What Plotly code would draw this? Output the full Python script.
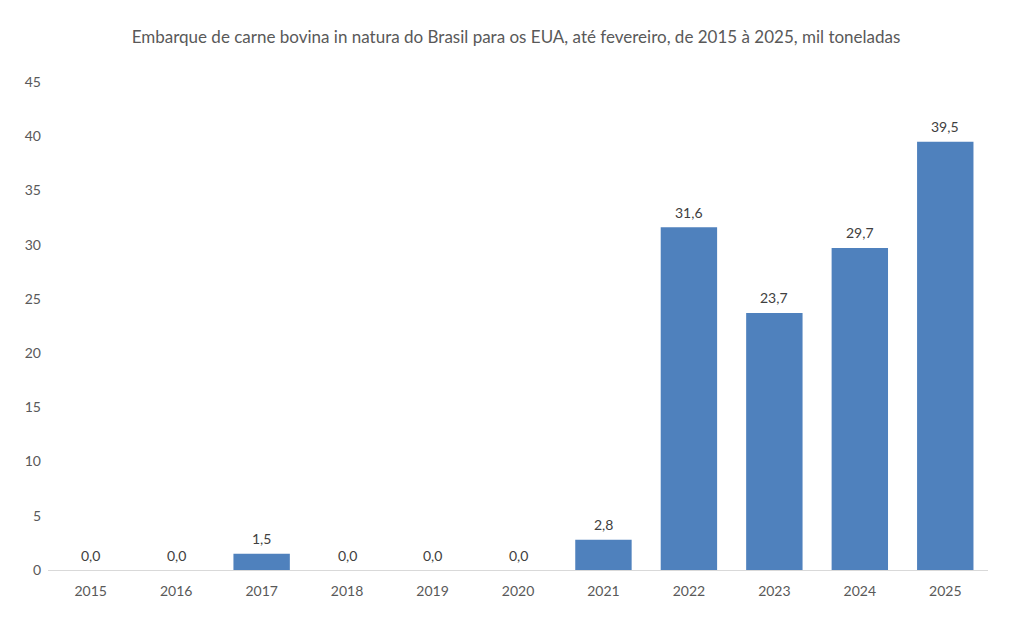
import plotly.graph_objects as go

years = ["2015", "2016", "2017", "2018", "2019", "2020", "2021", "2022", "2023", "2024", "2025"]
values = [0.0, 0.0, 1.5, 0.0, 0.0, 0.0, 2.8, 31.6, 23.7, 29.7, 39.5]
y_ticks = [0, 5, 10, 15, 20, 25, 30, 35, 40, 45]

title = "Embarque de carne bovina in natura do Brasil para os EUA, até fevereiro, de 2015 à 2025, mil toneladas"

font_family = "Lato, 'Open Sans', sans-serif"
gray = "#595959"

fig = go.Figure(
    go.Bar(
        x=years,
        y=values,
        marker=dict(color="#4F81BD", line=dict(width=0)),
        cliponaxis=False,
    )
)

# category axis: annotation x uses the category's serial index
for i, v in enumerate(values):
    fig.add_annotation(
        x=i,
        y=v,
        text=f"{v:.1f}".replace(".", ","),
        showarrow=False,
        yanchor="middle",
        yshift=15,
        font=dict(size=14, color="#404040", family=font_family),
    )

fig.update_layout(
    width=1011,
    height=629,
    paper_bgcolor="white",
    plot_bgcolor="white",
    separators=",.",
    bargap=0.34,
    margin=dict(l=48, r=23, t=82, b=59),
    title=dict(
        text=title,
        xref="container",
        x=516 / 1011,
        xanchor="center",
        y=1 - 37 / 629,
        yanchor="middle",
        font=dict(size=17, color=gray, family=font_family),
    ),
    font=dict(family=font_family, color=gray, size=14),
    showlegend=False,
)

fig.update_xaxes(
    type="category",
    categoryorder="array",
    categoryarray=years,
    range=[-0.5, len(years) - 0.5],
    showline=True,
    linecolor="#D9D9D9",
    linewidth=1,
    showgrid=False,
    ticks="",
    ticklabelstandoff=8,
    tickfont=dict(size=14, color=gray),
)
fig.update_yaxes(
    range=[0, 45],
    tickvals=y_ticks,
    showgrid=False,
    zeroline=False,
    showline=False,
    ticks="",
    ticklabelstandoff=6,
    tickfont=dict(size=14, color=gray),
)

fig.write_html("out.html")
